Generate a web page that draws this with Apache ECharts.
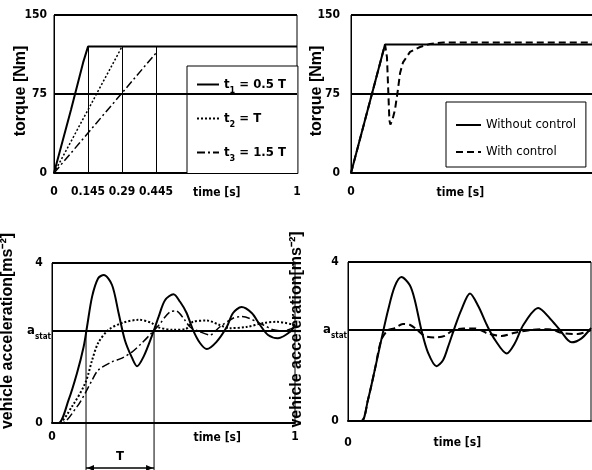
<!DOCTYPE html>
<html>
<head>
<meta charset="utf-8">
<script src="https://cdn.jsdelivr.net/npm/echarts@6/dist/echarts.min.js"></script>
<style>
  html, body { margin: 0; padding: 0; background: #fff; }
  #chart { width: 592px; height: 470px; }
</style>
</head>
<body>
<div id="chart"></div>
<script>
// ---- top left: torque ramps with different rise times ----
const rampTimeT1 = [0, 0.07, 0.12, 0.14, 1]
const rampTorqueT1 = [0, 60, 105, 120, 120]
const rampTimeT2 = [0, 0.28]
const rampTorqueT2 = [0, 120]
const rampTimeT3 = [0, 0.42]
const rampTorqueT3 = [0, 114]
const rampEnds = [0.14, 0.28, 0.42]
const rampEndTorque = 120
const rampTicks = [0, 0.14, 0.28, 0.42, 1]
const rampTickLabels = ['0', '0.145', '0.29', '0.445', '1']
const rampNames = ['t1 = 0.5 T', 't2 = T', 't3 = 1.5 T']

// ---- top right: torque with / without control ----
const ctrlNames = ['Without control', 'With control']
const noCtrlTime = [0, 0.14, 1]
const noCtrlTorque = [0, 122, 122]
const ctrlTime = [0, 0.14, 0.148, 0.153, 0.158, 0.162, 0.17, 0.181, 0.193, 0.202, 0.214, 0.243, 0.284, 0.325, 0.38, 1]
const ctrlTorque = [0, 122, 110, 80, 50, 46, 50, 60, 79, 95, 105, 115, 119.6, 122.5, 124, 124]

// ---- bottom left: vehicle acceleration for t1, t2, t3 ----
const aStat = 2.3
const accTimeT1 = [0, 0.027, 0.068, 0.103, 0.13, 0.144, 0.165, 0.19, 0.213, 0.247, 0.274, 0.3, 0.33, 0.35, 0.377, 0.41, 0.439, 0.465, 0.5, 0.527, 0.554, 0.58, 0.609, 0.637, 0.677, 0.719, 0.745, 0.78, 0.822, 0.856, 0.889, 0.93, 0.98, 1]
const accT1 = [0, 0, 0.57, 1.25, 1.9, 2.4, 3.16, 3.62, 3.7, 3.45, 2.75, 2.07, 1.62, 1.42, 1.66, 2.16, 2.66, 3.07, 3.22, 3.03, 2.75, 2.33, 2.0, 1.85, 2.03, 2.4, 2.75, 2.9, 2.75, 2.45, 2.2, 2.12, 2.28, 2.45]
const accTimeT2 = [0, 0.027, 0.082, 0.137, 0.165, 0.19, 0.233, 0.288, 0.357, 0.41, 0.432, 0.5, 0.55, 0.58, 0.637, 0.69, 0.73, 0.8, 0.87, 0.925, 1]
const accT2 = [0, 0, 0.41, 1.0, 1.57, 2.0, 2.33, 2.5, 2.58, 2.5, 2.4, 2.33, 2.35, 2.53, 2.56, 2.45, 2.37, 2.4, 2.5, 2.53, 2.45]
const accTimeT3 = [0, 0.04, 0.103, 0.137, 0.165, 0.19, 0.247, 0.288, 0.33, 0.37, 0.41, 0.44, 0.486, 0.51, 0.547, 0.568, 0.609, 0.65, 0.69, 0.745, 0.78, 0.87, 0.91, 0.95, 1]
const accT3 = [0, 0, 0.41, 0.75, 1.07, 1.32, 1.53, 1.62, 1.78, 2.0, 2.25, 2.45, 2.78, 2.8, 2.57, 2.4, 2.28, 2.2, 2.4, 2.62, 2.66, 2.45, 2.33, 2.3, 2.4]
const periodStart = 0.14
const periodEnd = 0.42

// ---- bottom right: vehicle acceleration with / without control ----
const accTimeNoCtrl = [0, 0.055, 0.082, 0.11, 0.137, 0.165, 0.192, 0.22, 0.254, 0.275, 0.302, 0.33, 0.364, 0.391, 0.412, 0.44, 0.466, 0.502, 0.537, 0.571, 0.605, 0.653, 0.687, 0.722, 0.783, 0.831, 0.872, 0.92, 0.961, 1]
const accNoCtrl = [0, 0, 0.53, 1.28, 2.04, 2.79, 3.38, 3.62, 3.42, 3.04, 2.29, 1.71, 1.38, 1.53, 1.87, 2.37, 2.79, 3.21, 2.88, 2.42, 2.04, 1.7, 1.96, 2.42, 2.84, 2.58, 2.29, 1.98, 2.08, 2.34]
const accTimeCtrl = [0, 0.055, 0.082, 0.11, 0.137, 0.165, 0.19, 0.226, 0.254, 0.281, 0.315, 0.357, 0.398, 0.424, 0.474, 0.522, 0.576, 0.632, 0.687, 0.755, 0.823, 0.893, 0.946, 1]
const accCtrl = [0, 0, 0.53, 1.28, 2.04, 2.29, 2.33, 2.44, 2.42, 2.31, 2.14, 2.1, 2.14, 2.25, 2.33, 2.33, 2.2, 2.14, 2.22, 2.29, 2.31, 2.2, 2.19, 2.29]

const timeLabelAt = [0.67, 0.45, 0.68, 0.45]

const narrow = '"DejaVu Sans Condensed", "Liberation Sans Narrow", sans-serif'
const wide = '"Liberation Sans", Arial, sans-serif'

const pairs = (xs, ys) => xs.map((x, i) => [x, ys[i]])

function hLines (values) {
  return {
    silent: true,
    symbol: ['none', 'none'],
    label: { show: false },
    emphasis: { disabled: true },
    lineStyle: { color: '#000', width: 2, type: 'solid' },
    data: values.map(v => ({ yAxis: v }))
  }
}

function timeAxis (gridIndex, ticks, labels, margin) {
  return {
    type: 'value',
    gridIndex,
    min: 0,
    max: 1,
    axisLine: { show: true, onZero: false, lineStyle: { color: '#000', width: 2 } },
    axisTick: { show: false },
    splitLine: { show: false },
    axisLabel: {
      customValues: ticks,
      formatter: v => labels[ticks.indexOf(v)],
      margin,
      color: '#000',
      fontFamily: narrow,
      fontWeight: 'bold',
      fontSize: 12
    }
  }
}

function torqueAxis (gridIndex, margin, gap) {
  return {
    type: 'value',
    gridIndex,
    min: 0,
    max: 150,
    interval: 75,
    name: 'torque [Nm]',
    nameLocation: 'middle',
    nameGap: gap,
    nameMoveOverlap: false,
    nameTextStyle: { fontFamily: wide, fontWeight: 'bold', fontSize: 16, color: '#000', padding: [0, 0, 0, 6] },
    axisLine: { show: true, lineStyle: { color: '#000', width: 1 } },
    axisTick: { show: false },
    splitLine: { show: false },
    axisLabel: { margin, color: '#000', fontFamily: narrow, fontWeight: 'bold', fontSize: 12 }
  }
}

function accAxis (gridIndex, gap) {
  const ticks = [0, aStat, 4]
  return {
    type: 'value',
    gridIndex,
    min: 0,
    max: 4,
    name: 'vehicle acceleration[ms\u207B\u00B2]',
    nameLocation: 'middle',
    nameGap: gap,
    nameMoveOverlap: false,
    nameTextStyle: { fontFamily: wide, fontWeight: 'bold', fontSize: 16, color: '#000', padding: [0, 0, 0, 24] },
    axisLine: { show: true, lineStyle: { color: '#000', width: 1 } },
    axisTick: { show: false },
    splitLine: { show: false },
    axisLabel: {
      customValues: ticks,
      formatter: v => (v === aStat ? '{a|a}{s|stat}' : String(v)),
      align: 'center',
      margin: 13,
      color: '#000',
      fontFamily: narrow,
      fontWeight: 'bold',
      fontSize: 12,
      rich: {
        a: { fontFamily: narrow, fontWeight: 'bold', fontSize: 13, lineHeight: 20 },
        s: { fontFamily: narrow, fontWeight: 'bold', fontSize: 8, lineHeight: 20, verticalAlign: 'bottom' }
      }
    }
  }
}

const black = '#000'
const chart = echarts.init(document.getElementById('chart'))

chart.setOption({
  animation: false,
  backgroundColor: '#fff',
  textStyle: { fontFamily: narrow, color: black },
  grid: [
    { left: 54, top: 15, width: 243, height: 158 },
    { left: 351, top: 15, width: 243, height: 158 },
    { left: 52, top: 263, width: 243, height: 160 },
    { left: 348, top: 262, width: 243, height: 159 }
  ].map(g => Object.assign(g, { show: true, borderColor: black, borderWidth: 1, backgroundColor: 'transparent', outerBoundsMode: 'none' })),
  xAxis: [
    timeAxis(0, rampTicks, rampTickLabels, 13),
    timeAxis(1, [0], ['0'], 13),
    timeAxis(2, [0, 1], ['0', '1'], 8),
    timeAxis(3, [0], ['0'], 16)
  ],
  yAxis: [
    torqueAxis(0, 7, 25),
    torqueAxis(1, 11, 26),
    accAxis(2, 36),
    accAxis(3, 43)
  ],
  legend: [
    {
      data: rampNames,
      left: 187,
      top: 66,
      orient: 'vertical',
      selectedMode: false,
      itemWidth: 22,
      itemHeight: 14,
      itemGap: 16.5,
      padding: [12, 12, 10, 9],
      borderColor: black,
      borderWidth: 1,
      backgroundColor: '#fff',
      itemStyle: { opacity: 0 },
      formatter: name => {
        const m = name.match(/^t(\d)(.*)$/)
        return '{b|t}{s|' + m[1] + '}{b|' + m[2] + '}'
      },
      textStyle: {
        color: black,
        rich: {
          b: { fontFamily: narrow, fontWeight: 'bold', fontSize: 13, lineHeight: 22 },
          s: { fontFamily: narrow, fontWeight: 'bold', fontSize: 9, lineHeight: 22, verticalAlign: 'bottom' }
        }
      }
    },
    {
      data: ctrlNames,
      left: 446,
      top: 102,
      orient: 'vertical',
      selectedMode: false,
      itemWidth: 25,
      itemHeight: 14,
      itemGap: 9,
      padding: [14, 10, 6, 9],
      borderColor: black,
      borderWidth: 1,
      backgroundColor: '#fff',
      itemStyle: { opacity: 0 },
      textStyle: { color: black, fontFamily: narrow, fontSize: 13, lineHeight: 18 }
    }
  ],
  series: [
    {
      name: rampNames[0], type: 'line', xAxisIndex: 0, yAxisIndex: 0, symbol: 'none',
      data: pairs(rampTimeT1, rampTorqueT1),
      lineStyle: { color: black, width: 2 },
      itemStyle: { color: black },
      markLine: hLines([150, 75])
    },
    {
      name: rampNames[1], type: 'line', xAxisIndex: 0, yAxisIndex: 0, symbol: 'none',
      data: pairs(rampTimeT2, rampTorqueT2),
      lineStyle: { color: black, width: 1.5, type: [2, 2] },
      itemStyle: { color: black },
      markLine: {
        silent: true,
        symbol: ['none', 'none'],
        label: { show: false },
        emphasis: { disabled: true },
        lineStyle: { color: black, width: 1, type: 'solid' },
        data: rampEnds.map(t => [{ coord: [t, 0] }, { coord: [t, rampEndTorque] }])
      }
    },
    {
      name: rampNames[2], type: 'line', xAxisIndex: 0, yAxisIndex: 0, symbol: 'none',
      data: pairs(rampTimeT3, rampTorqueT3),
      lineStyle: { color: black, width: 1.5, type: [8, 3, 2, 3] },
      itemStyle: { color: black }
    },
    {
      name: ctrlNames[0], type: 'line', xAxisIndex: 1, yAxisIndex: 1, symbol: 'none',
      data: pairs(noCtrlTime, noCtrlTorque),
      lineStyle: { color: black, width: 2 },
      itemStyle: { color: black },
      markLine: hLines([150, 75])
    },
    {
      name: ctrlNames[1], type: 'line', xAxisIndex: 1, yAxisIndex: 1, symbol: 'none',
      data: pairs(ctrlTime, ctrlTorque),
      lineStyle: { color: black, width: 2, type: [7, 4] },
      itemStyle: { color: black }
    },
    {
      name: 'acc t1', type: 'line', xAxisIndex: 2, yAxisIndex: 2, symbol: 'none', smooth: 0.3,
      data: pairs(accTimeT1, accT1),
      lineStyle: { color: black, width: 2 },
      markLine: hLines([4, aStat])
    },
    {
      name: 'acc t2', type: 'line', xAxisIndex: 2, yAxisIndex: 2, symbol: 'none', smooth: 0.3,
      data: pairs(accTimeT2, accT2),
      lineStyle: { color: black, width: 2, type: [2, 2] }
    },
    {
      name: 'acc t3', type: 'line', xAxisIndex: 2, yAxisIndex: 2, symbol: 'none', smooth: 0.3,
      data: pairs(accTimeT3, accT3),
      lineStyle: { color: black, width: 1.5, type: [8, 3, 2, 3] }
    },
    {
      name: 'acc no control', type: 'line', xAxisIndex: 3, yAxisIndex: 3, symbol: 'none', smooth: 0.3,
      data: pairs(accTimeNoCtrl, accNoCtrl),
      lineStyle: { color: black, width: 2 },
      markLine: hLines([4, aStat])
    },
    {
      name: 'acc control', type: 'line', xAxisIndex: 3, yAxisIndex: 3, symbol: 'none', smooth: 0.3,
      data: pairs(accTimeCtrl, accCtrl),
      lineStyle: { color: black, width: 2, type: [7, 4] }
    }
  ]
})

// annotations placed through the axes' own scales
const px = (g, x, y) => chart.convertToPixel({ gridIndex: g }, [x, y])
const labelFont = 'bold 12px ' + narrow
const rowOffset = [20, 20, 15, 22]
const graphic = timeLabelAt.map((t, g) => {
  const p = px(g, t, 0)
  return {
    type: 'text', x: p[0], y: p[1] + rowOffset[g], z: 10,
    style: { text: 'time [s]', font: labelFont, fill: black, align: 'center', verticalAlign: 'middle' }
  }
})

const a = px(2, periodStart, aStat)
const b = px(2, periodEnd, aStat)
const base = px(2, 0, 0)[1]
const yArrow = base + 45
graphic.push(
  { type: 'line', z: 10, shape: { x1: a[0], y1: a[1], x2: a[0], y2: yArrow + 2 }, style: { stroke: black, lineWidth: 1 } },
  { type: 'line', z: 10, shape: { x1: b[0], y1: b[1], x2: b[0], y2: yArrow + 2 }, style: { stroke: black, lineWidth: 1 } },
  { type: 'line', z: 10, shape: { x1: a[0], y1: yArrow, x2: b[0], y2: yArrow }, style: { stroke: black, lineWidth: 1.5 } },
  { type: 'polygon', z: 10, shape: { points: [[a[0] + 1, yArrow], [a[0] + 8, yArrow - 3], [a[0] + 8, yArrow + 3]] }, style: { fill: black } },
  { type: 'polygon', z: 10, shape: { points: [[b[0] - 1, yArrow], [b[0] - 8, yArrow - 3], [b[0] - 8, yArrow + 3]] }, style: { fill: black } },
  {
    type: 'text', x: (a[0] + b[0]) / 2, y: base + 34, z: 10,
    style: { text: 'T', font: 'bold 13px ' + narrow, fill: black, align: 'center', verticalAlign: 'middle' }
  }
)
chart.setOption({ graphic })
</script>
</body>
</html>
